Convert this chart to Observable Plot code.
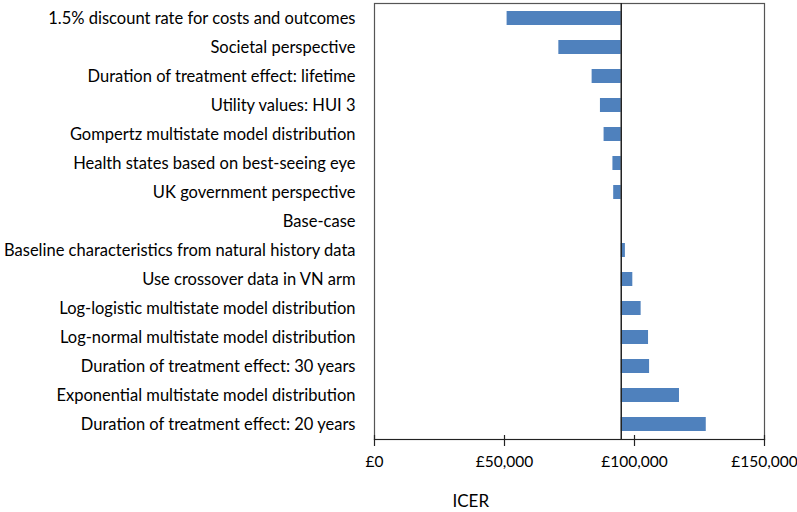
<!DOCTYPE html>
<html>
<head>
<meta charset="utf-8">
<script src="https://cdn.jsdelivr.net/npm/d3@7"></script>
<script src="https://cdn.jsdelivr.net/npm/@observablehq/plot@0.6"></script>
<style>
  html, body { margin: 0; padding: 0; background: #fff; }
  #chart svg { font-family: Lato, "Open Sans", sans-serif; }
</style>
</head>
<body>
<div id="chart"></div>
<script>
const scenarios = [
  "1.5% discount rate for costs and outcomes",
  "Societal perspective",
  "Duration of treatment effect: lifetime",
  "Utility values: HUI 3",
  "Gompertz multistate model distribution",
  "Health states based on best-seeing eye",
  "UK government perspective",
  "Base-case",
  "Baseline characteristics from natural history data",
  "Use crossover data in VN arm",
  "Log-logistic multistate model distribution",
  "Log-normal multistate model distribution",
  "Duration of treatment effect: 30 years",
  "Exponential multistate model distribution",
  "Duration of treatment effect: 20 years"
];
const icerValues = [51000, 70900, 83700, 86900, 88300, 91700, 92000, 94900, 96500, 99350, 102550, 105400, 105800, 117300, 127600];
const baseCase = 94900;
const xTicks = [0, 50000, 100000, 150000];
const xLabel = "ICER";

const data = scenarios.map((s, i) => ({scenario: s, icer: icerValues[i]}));
const fmt = d => "£" + d3.format(",")(d);

const chart = Plot.plot({
  width: 797,
  height: 512,
  marginLeft: 374,
  marginRight: 33,
  marginTop: 3,
  marginBottom: 73,
  style: {fontSize: "15px", color: "#000"},
  x: {domain: [0, 150000]},
  y: {domain: scenarios, paddingInner: 0.52, paddingOuter: 0.26},
  marks: [
    Plot.frame({stroke: "#555", strokeWidth: 1.2}),
    Plot.barX(data, {x1: baseCase, x2: "icer", y: "scenario", fill: "#4f81bd"}),
    Plot.ruleX([baseCase], {stroke: "#222", strokeWidth: 1.5}),
    Plot.axisY({tickSize: 0, tickPadding: 19, fontSize: 16.5, label: null}),
    Plot.frame({anchor: "bottom", stroke: "#222", strokeWidth: 1.2}),
    Plot.axisX({ticks: xTicks, tickSize: 11, dy: -4, tickFormat: () => "", stroke: "#222", strokeWidth: 1.2, label: null}),
    Plot.axisX({ticks: xTicks, tickFormat: fmt, tickSize: 0, tickPadding: 16, fontSize: 15.5, label: null}),
    Plot.text([xLabel], {frameAnchor: "bottom-left", dx: 78, dy: 62, lineAnchor: "middle", fontSize: 17})
  ]
});
document.getElementById("chart").appendChild(chart);
</script>
</body>
</html>
